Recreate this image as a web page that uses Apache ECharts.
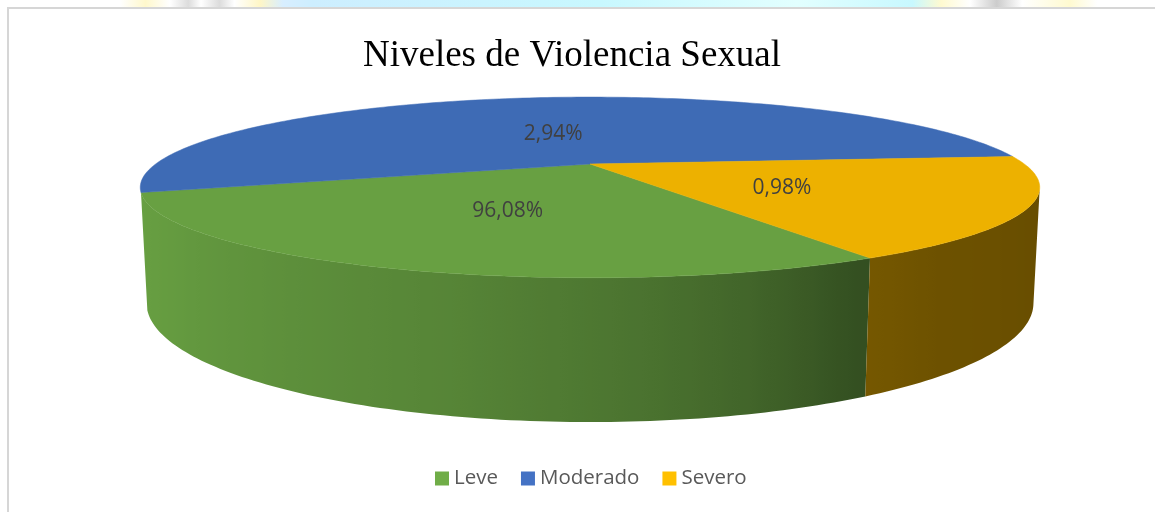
<!DOCTYPE html>
<html><head><meta charset="utf-8">
<style>html,body{margin:0;padding:0;background:#fff}#c{width:1155px;height:512px}</style>
<script src="https://cdn.jsdelivr.net/npm/echarts@6/dist/echarts.min.js"></script>
</head><body><div id="c"></div>
<script>
// ---- data ----
const titleText = 'Niveles de Violencia Sexual';
const categories = ['Leve', 'Moderado', 'Severo'];
const labelTexts = ['96,08%', '2,94%', '0,98%'];      // data labels as printed
const sliceShares = [28.3, 53.6, 18.1];               // share of the drawn pie (percent of the circle), estimated
const faceColors = ['#68a042', '#3e6bb5', '#edb100'];
const legendColors = ['#70ad47', '#4472c4', '#ffc000'];

// ---- 3D pie geometry (perspective view) ----
const START = 300; // first slice start angle (degrees), slices run clockwise
const V = {cx: 590, cy: 164, F: 1645, d: 3.787, c: 0.981, s: 0.194, H: 0.259};
function proj(X, Y, Z) {
  const depth = V.d + Z * V.c - Y * V.s;
  const up = Y * V.c + Z * V.s;
  return [V.cx + V.F * X / depth, V.cy - V.F * up / depth];
}
function rim(deg, Y, r) {
  r = r || 1; const t = deg * Math.PI / 180;
  return proj(r * Math.cos(t), Y, r * Math.sin(t));
}
const total = sliceShares.reduce((a, b) => a + b, 0);
const bounds = [];
(function () { let acc = START; sliceShares.forEach(v => { const hi = acc, lo = acc - v / total * 360; bounds.push([lo, hi]); acc = lo; }); })();

const shadeTable = [[180, 1.0], [198, 1.0], [215, 0.97], [236, 0.9], [256, 0.83], [275, 0.72], [286, 0.63], [298, 0.5], [310, 0.46], [360, 0.42]];
function shade(deg) {
  deg = ((deg % 360) + 360) % 360;
  if (deg < 180) deg = 180;
  for (let i = 1; i < shadeTable.length; i++) {
    const [a, fa] = shadeTable[i - 1], [b, fb] = shadeTable[i];
    if (deg <= b) return fa + (fb - fa) * (deg - a) / (b - a);
  }
  return 0.42;
}
function scaleColor(hex, f) {
  const n = parseInt(hex.slice(1), 16);
  const r = Math.round(((n >> 16) & 255) * f), g = Math.round(((n >> 8) & 255) * f), b = Math.round((n & 255) * f);
  return 'rgb(' + r + ',' + g + ',' + b + ')';
}
function arcSamples(a, b) {
  const n = Math.max(2, Math.ceil(Math.abs(b - a) / 1));
  const out = []; for (let j = 0; j <= n; j++) out.push(a + (b - a) * j / n); return out;
}
const VIS = [197.9, 344.4];

function renderSlice(params, api) {
  const i = params.seriesIndex;
  const lo = bounds[i][0], hi = bounds[i][1];
  const children = [];
  // outer side wall (front, visible part)
  [-360, 0, 360].forEach(k => {
    const a = Math.max(lo, VIS[0] + k), b = Math.min(hi, VIS[1] + k);
    if (b - a > 0.5) {
      const ts = arcSamples(a, b);
      const topPts = ts.map(t => rim(t, 0));
      const botPts = ts.map(t => rim(t, -V.H)).reverse();
      const x0 = topPts[0][0], x1 = topPts[topPts.length - 1][0];
      const stops = ts.map((t, j) => ({offset: Math.min(1, Math.max(0, (topPts[j][0] - x0) / ((x1 - x0) || 1))), color: scaleColor(faceColors[i], shade(t))}));
      children.push({
        type: 'polygon', z2: 1,
        shape: {points: topPts.concat(botPts)},
        style: {fill: new echarts.graphic.LinearGradient(x0, 0, x1, 0, stops, true), stroke: null}
      });
    }
  });
  // top face
  const pts = [proj(0, 0, 0)].concat(arcSamples(hi, lo).map(t => rim(t, 0)));
  children.push({type: 'polygon', z2: 2, shape: {points: pts}, style: {fill: faceColors[i], stroke: faceColors[i], lineWidth: 0.5}});
  // label
  const mid = (lo + hi) / 2; const lp = rim(mid, 0, 0.47);
  children.push({
    type: 'text', z2: 10, x: lp[0], y: lp[1] + 5,
    style: {text: labelTexts[i], fill: '#404040', fontFamily: '"Open Sans"', fontSize: 21, align: 'center', verticalAlign: 'middle'}
  });
  return {type: 'group', children: children};
}

const chart = echarts.init(document.getElementById('c'), null, {renderer: 'canvas'});
chart.setOption({
  backgroundColor: '#ffffff',
  animation: false,
  legend: {
    data: categories, left: 435, top: 468, padding: 0,
    icon: 'rect', itemWidth: 14, itemHeight: 14, itemGap: 23, selectedMode: false,
    textStyle: {fontFamily: '"Open Sans"', fontSize: 20.5, color: '#595959'}
  },
  graphic: [
    {type: 'rect', silent: true, shape: {x: 0, y: 0, width: 1155, height: 7},
      style: {fill: new echarts.graphic.LinearGradient(0, 0, 1, 0, [
        {offset: 0, color: '#ffffff'}, {offset: 0.104, color: '#ffffff'}, {offset: 0.126, color: '#fff8cc'},
        {offset: 0.147, color: '#ffffff'}, {offset: 0.163, color: '#dcdcdc'}, {offset: 0.174, color: '#ffffff'},
        {offset: 0.19, color: '#dcdcdc'}, {offset: 0.203, color: '#ffffff'}, {offset: 0.225, color: '#fff6c6'},
        {offset: 0.245, color: '#d8eeff'}, {offset: 0.27, color: '#cdeeff'}, {offset: 0.52, color: '#c8f8ff'},
        {offset: 0.69, color: '#e2ffff'}, {offset: 0.79, color: '#c8f8ff'}, {offset: 0.815, color: '#fffad0'},
        {offset: 0.84, color: '#ffffff'}, {offset: 0.863, color: '#cccccc'}, {offset: 0.885, color: '#ffffff'},
        {offset: 0.926, color: '#fffad0'}, {offset: 0.95, color: '#ffffff'}, {offset: 1, color: '#ffffff'}
      ])}},
    {type: 'rect', silent: true, shape: {x: 8, y: 8, width: 1200, height: 600},
      style: {fill: 'none', stroke: '#d6d6d6', lineWidth: 2}},
    {type: 'text', silent: true, x: 572, y: 56,
      style: {text: titleText, fill: '#000000', fontFamily: '"Liberation Serif"', fontSize: 37, align: 'center', verticalAlign: 'middle'}}
  ],
  series: categories.map((name, i) => ({
    type: 'custom', name: name, coordinateSystem: 'none', silent: true,
    data: [[i]], itemStyle: {color: legendColors[i]},
    renderItem: renderSlice
  }))
});
</script></body></html>
